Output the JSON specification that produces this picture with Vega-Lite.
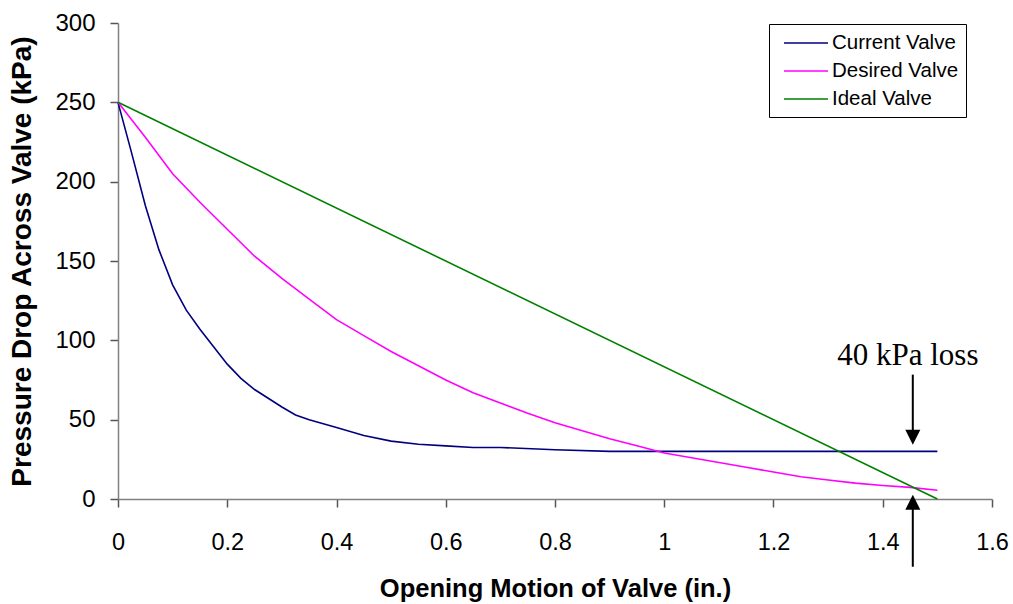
{
  "$schema": "https://vega.github.io/schema/vega-lite/v6.json",
  "width": 874,
  "height": 476,
  "autosize": "none",
  "padding": {"left": 118, "top": 23, "right": 21, "bottom": 105},
  "background": "white",
  "config": {
    "view": {"stroke": null},
    "font": "Liberation Sans"
  },
  "datasets": {
    "valves": [
      {"series": "Current Valve", "x": 0, "y": 250},
      {"series": "Current Valve", "x": 0.025, "y": 218},
      {"series": "Current Valve", "x": 0.05, "y": 185},
      {"series": "Current Valve", "x": 0.075, "y": 157},
      {"series": "Current Valve", "x": 0.1, "y": 135},
      {"series": "Current Valve", "x": 0.125, "y": 119},
      {"series": "Current Valve", "x": 0.15, "y": 107},
      {"series": "Current Valve", "x": 0.175, "y": 96},
      {"series": "Current Valve", "x": 0.2, "y": 85},
      {"series": "Current Valve", "x": 0.225, "y": 76},
      {"series": "Current Valve", "x": 0.25, "y": 69},
      {"series": "Current Valve", "x": 0.3, "y": 58},
      {"series": "Current Valve", "x": 0.325, "y": 53},
      {"series": "Current Valve", "x": 0.35, "y": 50},
      {"series": "Current Valve", "x": 0.4, "y": 45},
      {"series": "Current Valve", "x": 0.45, "y": 40},
      {"series": "Current Valve", "x": 0.5, "y": 36.5},
      {"series": "Current Valve", "x": 0.55, "y": 34.5},
      {"series": "Current Valve", "x": 0.6, "y": 33.5},
      {"series": "Current Valve", "x": 0.65, "y": 32.5},
      {"series": "Current Valve", "x": 0.7, "y": 32.5},
      {"series": "Current Valve", "x": 0.8, "y": 31},
      {"series": "Current Valve", "x": 0.9, "y": 30},
      {"series": "Current Valve", "x": 1.0, "y": 30},
      {"series": "Current Valve", "x": 1.1, "y": 30},
      {"series": "Current Valve", "x": 1.2, "y": 30},
      {"series": "Current Valve", "x": 1.3, "y": 30},
      {"series": "Current Valve", "x": 1.4, "y": 30},
      {"series": "Current Valve", "x": 1.5, "y": 30},
      {"series": "Desired Valve", "x": 0, "y": 250},
      {"series": "Desired Valve", "x": 0.05, "y": 228},
      {"series": "Desired Valve", "x": 0.1, "y": 205},
      {"series": "Desired Valve", "x": 0.15, "y": 187},
      {"series": "Desired Valve", "x": 0.2, "y": 170},
      {"series": "Desired Valve", "x": 0.25, "y": 153},
      {"series": "Desired Valve", "x": 0.3, "y": 139},
      {"series": "Desired Valve", "x": 0.35, "y": 126},
      {"series": "Desired Valve", "x": 0.4, "y": 113},
      {"series": "Desired Valve", "x": 0.45, "y": 103},
      {"series": "Desired Valve", "x": 0.5, "y": 93},
      {"series": "Desired Valve", "x": 0.55, "y": 84},
      {"series": "Desired Valve", "x": 0.6, "y": 75},
      {"series": "Desired Valve", "x": 0.65, "y": 67},
      {"series": "Desired Valve", "x": 0.7, "y": 60.5},
      {"series": "Desired Valve", "x": 0.75, "y": 54},
      {"series": "Desired Valve", "x": 0.8, "y": 48},
      {"series": "Desired Valve", "x": 0.85, "y": 43},
      {"series": "Desired Valve", "x": 0.9, "y": 38},
      {"series": "Desired Valve", "x": 0.95, "y": 33.5},
      {"series": "Desired Valve", "x": 1.0, "y": 29},
      {"series": "Desired Valve", "x": 1.05, "y": 26},
      {"series": "Desired Valve", "x": 1.1, "y": 23},
      {"series": "Desired Valve", "x": 1.15, "y": 20},
      {"series": "Desired Valve", "x": 1.2, "y": 17},
      {"series": "Desired Valve", "x": 1.25, "y": 14},
      {"series": "Desired Valve", "x": 1.3, "y": 12},
      {"series": "Desired Valve", "x": 1.35, "y": 10},
      {"series": "Desired Valve", "x": 1.4, "y": 8.5},
      {"series": "Desired Valve", "x": 1.45, "y": 7.3},
      {"series": "Desired Valve", "x": 1.5, "y": 5.5},
      {"series": "Ideal Valve", "x": 0, "y": 250},
      {"series": "Ideal Valve", "x": 1.5, "y": 0}
    ],
    "shafts": [
      {"x": 1.455, "y": 78.4, "y2": 39},
      {"x": 1.455, "y": -2.3, "y2": -42.7}
    ],
    "downHeads": [{"x": 1.455, "y": 34.2}],
    "upHeads": [{"x": 1.455, "y": 2.7}],
    "notes": [{"x": 1.446, "y": 84.6, "text": "40 kPa loss"}]
  },
  "layer": [
    {
      "data": {"name": "valves"},
      "mark": {"type": "line", "strokeWidth": 1.6, "clip": false},
      "encoding": {
        "x": {
          "field": "x", "type": "quantitative",
          "scale": {"domain": [0, 1.6], "nice": false, "zero": false},
          "axis": {
            "title": "Opening Motion of Valve (in.)",
            "values": [0, 0.2, 0.4, 0.6, 0.8, 1, 1.2, 1.4, 1.6],
            "format": "~g",
            "grid": false,
            "domainColor": "#808080",
            "domainWidth": 1.5,
            "tickColor": "#555555",
            "tickWidth": 1.5,
            "tickSize": 8,
            "labelFont": "Liberation Sans",
            "labelFontSize": 23.5,
            "labelColor": "black",
            "labelPadding": 23,
            "labelFlush": false,
            "labelOverlap": false,
            "titleFont": "Liberation Sans",
            "titleFontSize": 25.5,
            "titleFontWeight": "bold",
            "titleColor": "black",
            "titleBaseline": "middle",
            "titleY": 89
          }
        },
        "y": {
          "field": "y", "type": "quantitative",
          "scale": {"domain": [0, 300], "nice": false},
          "axis": {
            "title": "Pressure Drop Across Valve (kPa)",
            "values": [0, 50, 100, 150, 200, 250, 300],
            "grid": false,
            "domainColor": "#808080",
            "domainWidth": 1.5,
            "tickColor": "#555555",
            "tickWidth": 1.5,
            "tickSize": 8,
            "labelFont": "Liberation Sans",
            "labelFontSize": 24,
            "labelColor": "black",
            "labelPadding": 15,
            "labelFlush": false,
            "labelOverlap": false,
            "titleFont": "Liberation Sans",
            "titleFontSize": 28,
            "titleFontWeight": "bold",
            "titleColor": "black",
            "titleBaseline": "middle",
            "titleAngle": -90,
            "titleX": -95.5,
            "titleY": 238
          }
        },
        "color": {
          "field": "series", "type": "nominal",
          "scale": {
            "domain": ["Current Valve", "Desired Valve", "Ideal Valve"],
            "range": ["#000080", "#FF00FF", "#008000"]
          },
          "legend": {
            "title": null,
            "orient": "none",
            "legendX": 651,
            "legendY": 1,
            "strokeColor": "black",
            "fillColor": "white",
            "padding": 7,
            "symbolType": "M-1,0H3",
            "symbolSize": 484,
            "symbolOffset": 7,
            "symbolStrokeWidth": 1.6,
            "labelFont": "Liberation Sans",
            "labelFontSize": 20.5,
            "labelColor": "black",
            "labelOffset": 25,
            "rowPadding": 5
          }
        }
      }
    },
    {
      "data": {"name": "shafts"},
      "mark": {"type": "rule", "color": "black", "strokeWidth": 2, "clip": false},
      "encoding": {
        "x": {"field": "x", "type": "quantitative"},
        "y": {"field": "y", "type": "quantitative"},
        "y2": {"field": "y2"}
      }
    },
    {
      "data": {"name": "downHeads"},
      "mark": {"type": "point", "shape": "M-1,-2L1,-2L0,0Z", "size": 225, "filled": true, "color": "black", "opacity": 1, "strokeWidth": 0},
      "encoding": {
        "x": {"field": "x", "type": "quantitative"},
        "y": {"field": "y", "type": "quantitative"}
      }
    },
    {
      "data": {"name": "upHeads"},
      "mark": {"type": "point", "shape": "M-1,2L1,2L0,0Z", "size": 225, "filled": true, "color": "black", "opacity": 1, "strokeWidth": 0},
      "encoding": {
        "x": {"field": "x", "type": "quantitative"},
        "y": {"field": "y", "type": "quantitative"}
      }
    },
    {
      "data": {"name": "notes"},
      "mark": {"type": "text", "font": "Liberation Serif", "fontSize": 31, "align": "center", "baseline": "alphabetic", "color": "black"},
      "encoding": {
        "x": {"field": "x", "type": "quantitative"},
        "y": {"field": "y", "type": "quantitative"},
        "text": {"field": "text"}
      }
    }
  ]
}
